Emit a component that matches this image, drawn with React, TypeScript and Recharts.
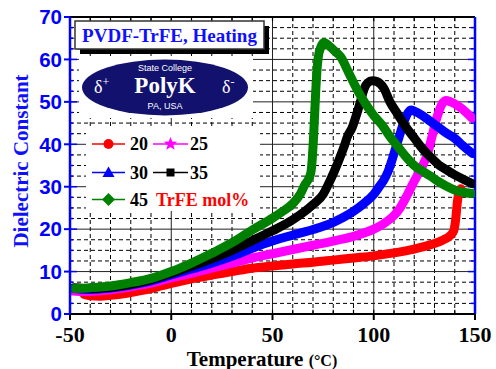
import React from 'react';
import { ComposedChart, Line, Scatter, XAxis, YAxis, CartesianGrid, ReferenceLine } from 'recharts';

const red20 = [
  { t: -43, v: 4.6 }, { t: -40, v: 4.3 }, { t: -35, v: 4.2 }, { t: -30, v: 4.4 }, { t: -22, v: 4.9 },
  { t: -15, v: 5.5 }, { t: -10, v: 6.0 }, { t: -5, v: 6.6 }, { t: 0, v: 7.2 }, { t: 10, v: 8.3 },
  { t: 20, v: 9.2 }, { t: 30, v: 10.0 }, { t: 40, v: 10.8 }, { t: 50, v: 11.3 }, { t: 60, v: 11.8 },
  { t: 70, v: 12.2 }, { t: 80, v: 12.7 }, { t: 90, v: 13.2 }, { t: 100, v: 13.7 }, { t: 110, v: 14.4 },
  { t: 120, v: 15.3 }, { t: 128, v: 16.3 }, { t: 134, v: 17.4 }, { t: 138, v: 18.6 }, { t: 139.5, v: 19.6 },
  { t: 140.5, v: 22.5 }, { t: 141.2, v: 26 }, { t: 142, v: 28.5 }, { t: 143, v: 29.5 },
];

const magenta25 = [
  { t: -50, v: 5.5 }, { t: -45, v: 5.3 }, { t: -40, v: 5.3 }, { t: -30, v: 5.7 }, { t: -20, v: 6.4 },
  { t: -10, v: 7.3 }, { t: 0, v: 8.5 }, { t: 10, v: 9.6 }, { t: 20, v: 10.8 }, { t: 30, v: 12.0 },
  { t: 40, v: 13.2 }, { t: 50, v: 14.2 }, { t: 60, v: 15.2 }, { t: 70, v: 16.2 }, { t: 80, v: 17.2 },
  { t: 90, v: 18.3 }, { t: 100, v: 20.0 }, { t: 105, v: 21.3 }, { t: 110, v: 23.2 }, { t: 113, v: 25 },
  { t: 116.7, v: 28.2 }, { t: 120, v: 31.3 }, { t: 123.3, v: 34.2 }, { t: 126.6, v: 37.8 }, { t: 129, v: 42.3 },
  { t: 131.5, v: 46.8 }, { t: 133.5, v: 49.3 }, { t: 135.5, v: 50.3 }, { t: 138, v: 50 }, { t: 143, v: 48.6 },
  { t: 148.5, v: 46.2 },
];

const blue30 = [
  { t: -48, v: 6.0 }, { t: -40, v: 5.8 }, { t: -30, v: 6.1 }, { t: -20, v: 6.8 }, { t: -10, v: 7.8 },
  { t: 0, v: 9.2 }, { t: 10, v: 10.6 }, { t: 20, v: 12.0 }, { t: 30, v: 13.6 }, { t: 40, v: 15.5 },
  { t: 50, v: 17.2 }, { t: 60, v: 18.6 }, { t: 70, v: 19.9 }, { t: 80, v: 21.6 }, { t: 90, v: 24.2 },
  { t: 95, v: 26 }, { t: 100, v: 28.2 }, { t: 103, v: 30.2 }, { t: 105, v: 31.6 }, { t: 107, v: 33.5 },
  { t: 110, v: 37.8 }, { t: 112.5, v: 41.7 }, { t: 115, v: 45.4 }, { t: 117, v: 47.5 }, { t: 118.5, v: 48.1 },
  { t: 121, v: 47.6 }, { t: 124, v: 46.8 }, { t: 128, v: 45.4 }, { t: 132, v: 44 }, { t: 136, v: 42.6 },
  { t: 140, v: 41.4 }, { t: 144, v: 39.7 }, { t: 148.8, v: 37.8 },
];

const black35 = [
  { t: -48, v: 6.2 }, { t: -40, v: 6.0 }, { t: -30, v: 6.3 }, { t: -20, v: 7.0 }, { t: -10, v: 8.1 },
  { t: 0, v: 9.6 }, { t: 10, v: 11.3 }, { t: 20, v: 13.0 }, { t: 30, v: 15.0 }, { t: 40, v: 17.3 },
  { t: 50, v: 19.6 }, { t: 60, v: 22.2 }, { t: 70, v: 25.8 }, { t: 75, v: 28.2 }, { t: 78, v: 31 },
  { t: 80.4, v: 33.5 }, { t: 83, v: 36.5 }, { t: 85.3, v: 39.4 }, { t: 87, v: 41.8 }, { t: 89.4, v: 44 },
  { t: 91.5, v: 47 }, { t: 93.6, v: 50.3 }, { t: 95.2, v: 53 }, { t: 97, v: 54.5 }, { t: 99.3, v: 55 },
  { t: 101.5, v: 54.8 }, { t: 105, v: 53.2 }, { t: 108, v: 50 }, { t: 111.7, v: 47.2 }, { t: 116, v: 44 },
  { t: 120, v: 41.5 }, { t: 123.3, v: 39.4 }, { t: 128, v: 37 }, { t: 132, v: 35.2 }, { t: 136.5, v: 33.8 },
  { t: 140, v: 32.8 }, { t: 144, v: 31.8 }, { t: 148.8, v: 30.7 },
];

const green45 = [
  { t: -48, v: 6.0 }, { t: -40, v: 6.2 }, { t: -30, v: 6.6 }, { t: -20, v: 7.4 }, { t: -10, v: 8.4 },
  { t: 0, v: 10.0 }, { t: 10, v: 12.0 }, { t: 20, v: 14.3 }, { t: 30, v: 16.8 }, { t: 40, v: 19.8 },
  { t: 50, v: 22.6 }, { t: 55, v: 24.2 }, { t: 60, v: 26 }, { t: 64, v: 28.5 }, { t: 66, v: 30.5 },
  { t: 68, v: 32 }, { t: 69, v: 33.5 }, { t: 69.7, v: 37 }, { t: 70.2, v: 41 }, { t: 70.6, v: 45 },
  { t: 71, v: 49 }, { t: 71.4, v: 53 }, { t: 71.9, v: 57 }, { t: 72.6, v: 60.5 }, { t: 73.8, v: 62.8 },
  { t: 75.4, v: 64 }, { t: 77, v: 63.6 }, { t: 80, v: 62.3 }, { t: 83.7, v: 60.6 }, { t: 88, v: 56.5 },
  { t: 92, v: 52.7 }, { t: 96, v: 49.5 }, { t: 100, v: 46.8 }, { t: 104, v: 44.6 }, { t: 108, v: 41.8 },
  { t: 112, v: 39.4 }, { t: 116, v: 37 }, { t: 120, v: 35 }, { t: 124, v: 33.7 }, { t: 128, v: 32.5 },
  { t: 132, v: 31.2 }, { t: 136, v: 30.1 }, { t: 140, v: 29.2 }, { t: 144, v: 28.7 }, { t: 148.5, v: 28.4 },
];

const green45Markers = [
  { t: 69.8, v: 38 }, { t: 70.1, v: 40.5 }, { t: 70.4, v: 42.5 }, { t: 70.6, v: 45 },
  { t: 70.9, v: 48.5 }, { t: 71.1, v: 50.8 }, { t: 71.4, v: 54.3 }, { t: 71.7, v: 57 },
];

const xTicks = [-50, 0, 50, 100, 150];
const yTicks = [0, 10, 20, 30, 40, 50, 60, 70];
const xMinorGrid = [-40, -30, -20, -10, 10, 20, 30, 40, 60, 70, 80, 90, 110, 120, 130, 140];
const xMajorGrid = [0, 50, 100];
const yMinorGrid = [2.5, 5, 7.5, 12.5, 15, 17.5, 22.5, 25, 27.5, 32.5, 35, 37.5, 42.5, 45, 47.5, 52.5, 55, 57.5, 62.5, 65, 67.5];
const yMajorGrid = [10, 20, 30, 40, 50, 60];
const xTickMarks = [-40, -30, -20, -10, 0, 10, 20, 30, 40, 50, 60, 70, 80, 90, 100, 110, 120, 130, 140];
const yTickMarks = [2.5, 5, 7.5, 10, 12.5, 15, 17.5, 20, 22.5, 25, 27.5, 30, 32.5, 35, 37.5, 40, 42.5, 45, 47.5, 50, 52.5, 55, 57.5, 60, 62.5, 65, 67.5];

const legendRows = [
  [{ label: '20', color: '#ff0000', marker: 'circle' }, { label: '25', color: '#ff00ff', marker: 'star' }],
  [{ label: '30', color: '#0000ff', marker: 'triangle' }, { label: '35', color: '#000000', marker: 'square' }],
  [{ label: '45', color: '#008000', marker: 'diamond' }],
];

const SERIF = "'Liberation Serif', 'Times New Roman', serif";
const SANS = "'Liberation Sans', Arial, sans-serif";

function starPoints(cx: number, cy: number, ro: number, ri: number) {
  const pts: string[] = [];
  for (let i = 0; i < 10; i++) {
    const r = i % 2 === 0 ? ro : ri;
    const a = -Math.PI / 2 + (i * Math.PI) / 5;
    pts.push(`${cx + r * Math.cos(a)},${cy + r * Math.sin(a)}`);
  }
  return pts.join(' ');
}

function Marker({ kind, cx, cy, color }: { kind: string; cx: number; cy: number; color: string }) {
  if (kind === 'circle') return <circle cx={cx} cy={cy} r={5} fill={color} />;
  if (kind === 'star') return <polygon points={starPoints(cx, cy, 7, 3)} fill={color} />;
  if (kind === 'triangle') return <polygon points={`${cx},${cy - 6} ${cx + 6},${cy + 4.5} ${cx - 6},${cy + 4.5}`} fill={color} />;
  if (kind === 'square') return <rect x={cx - 4} y={cy - 4} width={8} height={8} fill={color} />;
  return <polygon points={`${cx},${cy - 6.5} ${cx + 6.5},${cy} ${cx},${cy + 6.5} ${cx - 6.5},${cy}`} fill={color} />;
}

function Overlay() {
  const rowY = [144, 172.5, 199.5];
  const colLine = [[92, 125], [153, 188]];
  const colText = [130, 190];
  return (
    <svg width={496} height={369} style={{ position: 'absolute', left: 0, top: 0, pointerEvents: 'none' }}>
      {/* title box */}
      <rect x={80} y={26} width={189} height={28} fill="#000" />
      <rect x={75} y={21} width={189} height={28} fill="#fff" stroke="#333" strokeWidth={1.5} />
      <text x={169.5} y={42} textAnchor="middle" fontFamily={SERIF} fontWeight="bold" fontSize={19} fill="#1010ff">
        PVDF-TrFE, Heating
      </text>
      {/* logo */}
      <rect x={79} y={56} width={174} height={62} fill="#fff" />
      <ellipse cx={165} cy={87.5} rx={83} ry={28} fill="#12126e" />
      <text x={165} y={71} textAnchor="middle" fontFamily={SANS} fontSize={9} fill="#fff">State College</text>
      <text x={165} y={93} textAnchor="middle" fontFamily={SERIF} fontWeight="bold" fontSize={23} fill="#fff">PolyK</text>
      <text x={165} y={109} textAnchor="middle" fontFamily={SANS} fontSize={9} fill="#fff">PA, USA</text>
      <text x={94} y={93} fontFamily={SERIF} fontSize={18} fill="#fff">δ<tspan fontSize={12} dy={-7}>+</tspan></text>
      <text x={222} y={93} fontFamily={SERIF} fontSize={18} fill="#fff">δ<tspan fontSize={12} dy={-7}>-</tspan></text>
      {/* legend */}
      <rect x={86} y={126} width={174} height={85} fill="#fff" />
      {legendRows.map((row, ri) =>
        row.map((item, ci) => {
          const y = rowY[ri];
          const [x1, x2] = colLine[ci];
          return (
            <g key={`${ri}-${ci}`}>
              <line x1={x1} x2={x2} y1={y} y2={y} stroke={item.color} strokeWidth={1.5} />
              <Marker kind={item.marker} cx={(x1 + x2) / 2} cy={y} color={item.color} />
              <text x={colText[ci]} y={y + 6} fontFamily={SERIF} fontWeight="bold" fontSize={18} fill="#000">{item.label}</text>
            </g>
          );
        })
      )}
      <text x={156} y={rowY[2] + 6} fontFamily={SERIF} fontWeight="bold" fontSize={18} fill="#ff0000">TrFE mol%</text>
      {/* axis titles */}
      <text transform="translate(28,161) rotate(-90)" textAnchor="middle" fontFamily={SERIF} fontWeight="bold" fontSize={21} fill="#1010ff">
        Dielectric Constant
      </text>
      <text x={262} y={365.5} textAnchor="middle" fontFamily={SERIF} fontWeight="bold" fontSize={21} fill="#000">
        Temperature <tspan fontSize={16}>(°C)</tspan>
      </text>
    </svg>
  );
}

export default function App() {
  return (
    <div style={{ position: 'absolute', left: 0, top: 0, width: 496, height: 369, background: '#fff' }}>
      <ComposedChart width={496} height={369} margin={{ top: 17, right: 21, bottom: 0, left: 0 }}>
        <CartesianGrid horizontalValues={yMinorGrid} verticalValues={xMinorGrid} stroke="#000" strokeDasharray="4 3" strokeWidth={1} />
        <CartesianGrid horizontalValues={yMajorGrid} verticalValues={xMajorGrid} stroke="#222" strokeWidth={1} />
        <XAxis
          type="number"
          dataKey="t"
          domain={[-50, 150]}
          ticks={xTicks}
          interval={0}
          height={55}
          tickSize={6}
          tickMargin={6}
          axisLine={{ stroke: '#000', strokeWidth: 2 }}
          tickLine={{ stroke: '#000', strokeWidth: 2 }}
          tick={{ fill: '#000', fontSize: 22, fontWeight: 'bold', fontFamily: SERIF }}
          allowDataOverflow
        />
        <YAxis
          type="number"
          dataKey="v"
          domain={[0, 70]}
          ticks={yTicks}
          interval={0}
          width={70}
          tickSize={6}
          tickMargin={2}
          axisLine={{ stroke: '#0000ff', strokeWidth: 2.5 }}
          tickLine={{ stroke: '#0000ff', strokeWidth: 2 }}
          tick={{ fill: '#0000ff', fontSize: 20.5, fontWeight: 'bold', fontFamily: SANS }}
          allowDataOverflow
        />
        <ReferenceLine y={70} stroke="#000" strokeWidth={2} />
        <ReferenceLine x={150} stroke="#0000ff" strokeWidth={2.5} />
        {xTickMarks.map((x) => (
          <ReferenceLine key={`bt${x}`} segment={[{ x, y: 0 }, { x, y: 1 }]} stroke="#000" strokeWidth={1.2} />
        ))}
        {xTickMarks.map((x) => (
          <ReferenceLine key={`tt${x}`} segment={[{ x, y: 70 }, { x, y: 69 }]} stroke="#000" strokeWidth={1.2} />
        ))}
        {yTickMarks.map((y) => (
          <ReferenceLine key={`rt${y}`} segment={[{ x: 150, y }, { x: y % 10 === 0 ? 146.5 : 148, y }]} stroke="#0000ff" strokeWidth={1.5} />
        ))}
        {yTickMarks.map((y) => (
          <ReferenceLine key={`lt${y}`} segment={[{ x: -50, y }, { x: y % 10 === 0 ? -46.5 : -48.5, y }]} stroke="#0000ff" strokeWidth={1.5} />
        ))}
        <Line data={red20} dataKey="v" type="monotone" stroke="#ff0000" strokeWidth={9} strokeLinecap="round" strokeLinejoin="round" dot={false} activeDot={false} isAnimationActive={false} />
        <Line data={magenta25} dataKey="v" type="monotone" stroke="#ff00ff" strokeWidth={9} strokeLinecap="round" strokeLinejoin="round" dot={false} activeDot={false} isAnimationActive={false} />
        <Line data={blue30} dataKey="v" type="monotone" stroke="#0000ff" strokeWidth={9} strokeLinecap="round" strokeLinejoin="round" dot={false} activeDot={false} isAnimationActive={false} />
        <Line data={black35} dataKey="v" type="monotone" stroke="#000000" strokeWidth={9} strokeLinecap="round" strokeLinejoin="round" dot={false} activeDot={false} isAnimationActive={false} />
        <Line data={green45} dataKey="v" type="monotone" stroke="#008000" strokeWidth={9} strokeLinecap="round" strokeLinejoin="round" dot={false} activeDot={false} isAnimationActive={false} />
        <Scatter data={green45Markers} dataKey="v" fill="#008000" shape="diamond" isAnimationActive={false} />
      </ComposedChart>
      <Overlay />
    </div>
  );
}
